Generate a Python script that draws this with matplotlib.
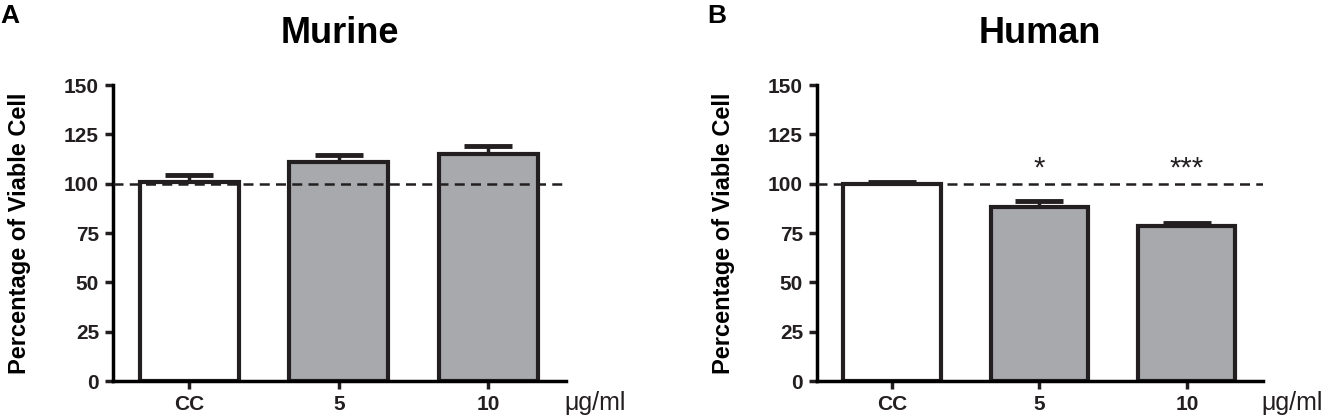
import numpy as np
import matplotlib.pyplot as plt

plt.rcParams['font.family'] = ['Liberation Sans', 'DejaVu Sans']

groups = ['CC', '5', '10']
murine_mean = [101, 111, 115]
murine_err = [3.5, 3.5, 4]
human_mean = [100, 88, 78.5]
human_err = [1, 3.5, 1.5]
human_stars = ['', '*', '***']
colors = ['white', '#a7a9ac', '#a7a9ac']

fig = plt.figure(figsize=(13.37, 4.17), dpi=100)
axA = fig.add_axes([0.0845, 0.086, 0.339, 0.710])
axB = fig.add_axes([0.611, 0.086, 0.334, 0.710])


def panel(ax, means, errs, title, stars=None):
    x = np.arange(len(groups))
    ax.errorbar(x, means, yerr=[[0] * len(errs), errs], fmt='none', ecolor='#231f20',
                elinewidth=2.5, capsize=17, capthick=3.5, zorder=1)
    ax.bar(x, means, width=0.66, color=colors, edgecolor='#231f20', linewidth=3, zorder=2)
    ax.axhline(100, color='#231f20', linestyle=(0, (4, 2.5)), linewidth=1.8, zorder=3)
    if stars:
        for xi, m, e, s in zip(x, means, errs, stars):
            if s:
                ax.text(xi, 100.5, s, ha='center', va='bottom', fontsize=21, color='#231f20')
    ax.set_xlim(-0.51, 2.52)
    ax.set_ylim(0, 150)
    ax.set_yticks([0, 25, 50, 75, 100, 125, 150])
    ax.set_xticks(x)
    ax.set_xticklabels(groups)
    for lab in ax.get_xticklabels() + ax.get_yticklabels():
        lab.set_fontweight('bold')
        lab.set_fontsize(15)
    ax.spines['top'].set_visible(False)
    ax.spines['right'].set_visible(False)
    ax.spines['left'].set_linewidth(2.5)
    ax.spines['bottom'].set_linewidth(2.5)
    ax.tick_params(width=2.5, length=6, colors='#231f20', pad=4)
    ax.set_ylabel('Percentage of Viable Cell', fontsize=17, fontweight='bold', labelpad=24)
    ax.set_title(title, fontsize=26, fontweight='bold', pad=30)
    ax.text(0.995, -0.075, 'μg/ml', transform=ax.transAxes, fontsize=18,
            ha='left', va='center', color='#231f20')


panel(axA, murine_mean, murine_err, 'Murine')
panel(axB, human_mean, human_err, 'Human', human_stars)

fig.text(0.0, 0.99, 'A', fontsize=19, fontweight='bold', va='top')
fig.text(0.529, 0.99, 'B', fontsize=19, fontweight='bold', va='top')

fig.savefig('out.png', dpi=100)
